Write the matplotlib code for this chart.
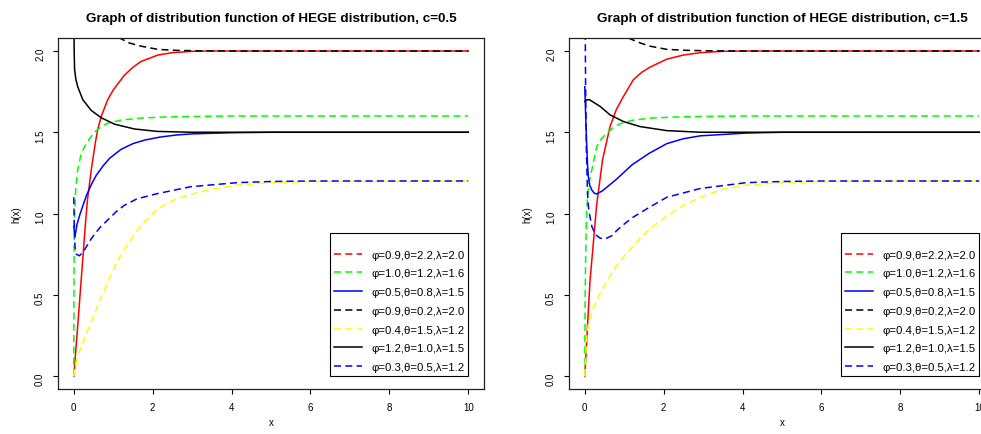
import matplotlib.pyplot as plt
from matplotlib.lines import Line2D

plt.rcParams['font.family'] = ['Liberation Sans', 'DejaVu Sans']

# ---- c = 0.5 (left panel) ----
red_05_x = [0, 0.1, 0.2, 0.3, 0.35, 0.45, 0.55, 0.61, 0.7, 0.86, 1.0, 1.28, 1.5, 1.7, 2.13, 2.5, 3.0, 3.5, 10]
red_05_y = [0, 0.31, 0.63, 0.95, 1.09, 1.28, 1.44, 1.52, 1.60, 1.70, 1.76, 1.85, 1.90, 1.935, 1.975, 1.99, 1.998, 2.0, 2.0]
green_05_x = [0, 0.002, 0.005, 0.01, 0.02, 0.05, 0.1, 0.18, 0.27, 0.4, 0.52, 0.7, 0.86, 1.2, 1.7, 2.3, 3.0, 4.0, 10]
green_05_y = [0, 0.35, 0.6, 0.8, 0.98, 1.15, 1.27, 1.36, 1.41, 1.46, 1.50, 1.535, 1.556, 1.575, 1.587, 1.594, 1.597, 1.6, 1.6]
blue_05_x = [0, 0.03, 0.08, 0.15, 0.22, 0.32, 0.45, 0.57, 0.75, 0.91, 1.2, 1.5, 1.8, 2.18, 2.6, 3.0, 4.0, 5.0, 10]
blue_05_y = [0.92, 0.86, 0.93, 0.99, 1.04, 1.11, 1.18, 1.235, 1.295, 1.34, 1.395, 1.43, 1.452, 1.47, 1.483, 1.49, 1.497, 1.5, 1.5]
blackd_05_x = [0.3, 0.5, 0.8, 1.0, 1.16, 1.4, 1.7, 2.13, 2.6, 3.2, 4.0, 10]
blackd_05_y = [2.6, 2.35, 2.18, 2.11, 2.08, 2.05, 2.03, 2.01, 2.004, 2.001, 2.0, 2.0]
yellow_05_x = [0, 0.02, 0.1, 0.25, 0.44, 0.65, 0.86, 1.07, 1.28, 1.5, 1.7, 2.13, 2.55, 3.0, 3.4, 4.15, 5.0, 6.0, 10]
yellow_05_y = [0, 0.04, 0.12, 0.22, 0.33, 0.46, 0.577, 0.69, 0.78, 0.86, 0.926, 1.03, 1.085, 1.12, 1.144, 1.175, 1.19, 1.197, 1.2]
black_05_x = [0, 0.003, 0.01, 0.02, 0.05, 0.1, 0.23, 0.44, 0.69, 1.03, 1.54, 2.13, 3.0, 4.0, 10]
black_05_y = [2.6, 2.2, 2.0, 1.89, 1.83, 1.78, 1.70, 1.635, 1.59, 1.55, 1.52, 1.505, 1.5, 1.5, 1.5]
blued_05_x = [0, 0.01, 0.03, 0.06, 0.14, 0.23, 0.44, 0.65, 0.86, 1.07, 1.28, 1.6, 2.13, 2.97, 4.15, 5.0, 6.0, 10]
blued_05_y = [1.10, 0.95, 0.80, 0.75, 0.74, 0.76, 0.844, 0.91, 0.96, 1.01, 1.05, 1.09, 1.123, 1.165, 1.19, 1.197, 1.2, 1.2]

# ---- c = 1.5 (right panel) ----
red_15_x = [0, 0.13, 0.3, 0.45, 0.64, 0.8, 0.98, 1.23, 1.45, 1.65, 2.08, 2.5, 2.93, 3.5, 4.0, 10]
red_15_y = [0, 0.577, 1.05, 1.33, 1.535, 1.64, 1.72, 1.823, 1.87, 1.90, 1.95, 1.975, 1.99, 1.998, 2.0, 2.0]
green_15_x = [0, 0.005, 0.01, 0.02, 0.03, 0.05, 0.1, 0.18, 0.3, 0.42, 0.56, 0.7, 0.89, 1.2, 1.65, 2.3, 2.93, 4.0, 10]
green_15_y = [0, 0.3, 0.5, 0.7, 0.85, 1.03, 1.18, 1.27, 1.41, 1.46, 1.494, 1.525, 1.552, 1.573, 1.587, 1.594, 1.597, 1.6, 1.6]
blue_15_x = [0, 0.01, 0.03, 0.05, 0.07, 0.09, 0.13, 0.18, 0.24, 0.3, 0.45, 0.6, 0.8, 1.0, 1.2, 1.63, 2.08, 2.5, 2.93, 4.1, 5.0, 10]
blue_15_y = [1.78, 1.70, 1.55, 1.41, 1.30, 1.227, 1.17, 1.144, 1.125, 1.12, 1.14, 1.17, 1.21, 1.255, 1.30, 1.37, 1.43, 1.46, 1.478, 1.495, 1.5, 1.5]
blackd_15_x = [0.3, 0.5, 0.8, 1.1, 1.4, 1.65, 2.08, 2.6, 3.2, 4.0, 10]
blackd_15_y = [2.6, 2.35, 2.17, 2.08, 2.05, 2.03, 2.01, 2.004, 2.001, 2.0, 2.0]
yellow_15_x = [0, 0.02, 0.05, 0.1, 0.2, 0.39, 0.6, 0.81, 1.0, 1.23, 1.45, 1.65, 2.08, 2.5, 2.93, 3.5, 4.1, 5.0, 6.0, 10]
yellow_15_y = [0, 0.1, 0.25, 0.33, 0.41, 0.51, 0.60, 0.68, 0.74, 0.80, 0.86, 0.906, 0.985, 1.05, 1.10, 1.15, 1.175, 1.19, 1.197, 1.2]
black_15_x = [0, 0.05, 0.12, 0.25, 0.39, 0.64, 0.98, 1.4, 2.08, 2.93, 4.0, 10]
black_15_y = [1.69, 1.70, 1.70, 1.68, 1.659, 1.607, 1.566, 1.535, 1.51, 1.50, 1.5, 1.5]
blued_15_x = [0, 0.02, 0.04, 0.07, 0.1, 0.18, 0.27, 0.39, 0.52, 0.7, 0.81, 1.0, 1.23, 1.65, 2.08, 2.93, 4.1, 5.0, 6.0, 10]
blued_15_y = [2.6, 1.8, 1.4, 1.12, 1.02, 0.92, 0.87, 0.848, 0.844, 0.865, 0.895, 0.935, 0.978, 1.04, 1.10, 1.154, 1.19, 1.197, 1.2, 1.2]

labels = ['φ=0.9,θ=2.2,λ=2.0', 'φ=1.0,θ=1.2,λ=1.6', 'φ=0.5,θ=0.8,λ=1.5', 'φ=0.9,θ=0.2,λ=2.0',
          'φ=0.4,θ=1.5,λ=1.2', 'φ=1.2,θ=1.0,λ=1.5', 'φ=0.3,θ=0.5,λ=1.2']
colors = ['red', '#00ff00', 'blue', 'black', '#ffff00', 'black', 'blue']
line_styles = ['-', '--', '-', '--', '--', '-', '--']      # as drawn
legend_styles = ['--', '--', '-', '--', '--', '-', '--']   # as shown in the legend

panels = [
    (0.5, [(red_05_x, red_05_y), (green_05_x, green_05_y), (blue_05_x, blue_05_y), (blackd_05_x, blackd_05_y),
           (yellow_05_x, yellow_05_y), (black_05_x, black_05_y), (blued_05_x, blued_05_y)]),
    (1.5, [(red_15_x, red_15_y), (green_15_x, green_15_y), (blue_15_x, blue_15_y), (blackd_15_x, blackd_15_y),
           (yellow_15_x, yellow_15_y), (black_15_x, black_15_y), (blued_15_x, blued_15_y)]),
]

DASH = (4.6, 2.8)
LW = 1.1

fig = plt.figure(figsize=(9.81, 4.35), dpi=100)
lefts = [58 / 981, 569 / 981]

for left, (c, curves) in zip(lefts, panels):
    # the right panel runs past the edge of the picture, as in the original
    ax = fig.add_axes([left, 45 / 435, 426 / 981, 351 / 435])
    for (xs, ys), col, ls in zip(curves, colors, line_styles):
        if ls == '--':
            ax.plot(xs, ys, color=col, lw=LW, dashes=DASH)
        else:
            ax.plot(xs, ys, color=col, lw=LW)
    ax.set_xlim(-0.4, 10.4)
    ax.set_ylim(-0.08, 2.08)
    ax.set_xticks([0, 2, 4, 6, 8, 10])
    ax.set_yticks([0, 0.5, 1.0, 1.5, 2.0])
    ax.set_yticklabels(['0.0', '0.5', '1.0', '1.5', '2.0'])
    ax.tick_params(labelsize=7, length=3.3, width=0.8, pad=6, color='black')
    ax.tick_params(axis='y', labelrotation=90)
    for s in ax.spines.values():
        s.set_linewidth(0.9)
        s.set_color('#222222')
    ax.set_xlabel('x', fontsize=7)
    ax.xaxis.set_label_coords(0.5, -0.08)
    ax.set_ylabel('h(x)', fontsize=7)
    ax.yaxis.set_label_coords(-0.085, 0.5)
    ax.set_title('Graph of distribution function of HEGE distribution, c=%s' % c,
                 fontsize=9.7, fontweight='bold', pad=12)

    handles = []
    for col, ls in zip(colors, legend_styles):
        if ls == '--':
            handles.append(Line2D([], [], color=col, lw=LW, dashes=DASH))
        else:
            handles.append(Line2D([], [], color=col, lw=LW))
    leg = ax.legend(handles, labels, loc='lower right', bbox_to_anchor=(10, 0),
                    bbox_transform=ax.transData, borderaxespad=0, fontsize=8.2,
                    title=' ', title_fontsize=2,
                    fancybox=False, edgecolor='black', framealpha=1,
                    handlelength=2.45, labelspacing=0.77, borderpad=0.33, handletextpad=0.8)
    leg.get_frame().set_linewidth(0.8)

fig.savefig('out.png', dpi=100)
